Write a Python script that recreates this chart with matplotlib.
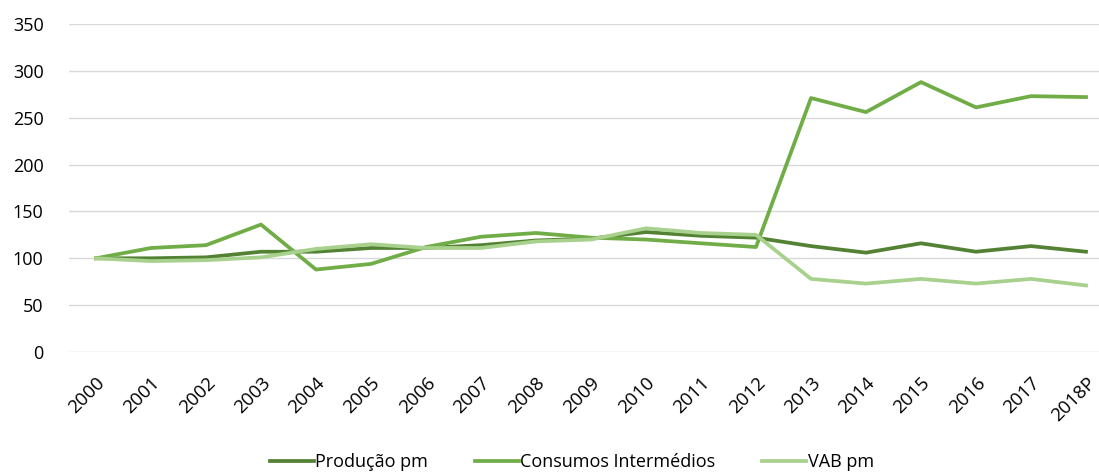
import matplotlib
matplotlib.use('Agg')
import matplotlib.pyplot as plt
import numpy as np

years = ['2000', '2001', '2002', '2003', '2004', '2005', '2006', '2007', '2008', '2009',
         '2010', '2011', '2012', '2013', '2014', '2015', '2016', '2017', '2018P']
producao = [100, 100, 101, 107, 107, 111, 111, 114, 119, 121,
            128, 124, 122, 113, 106, 116, 107, 113, 107]
consumos = [100, 111, 114, 136, 88, 94, 112, 123, 127, 122,
            120, 116, 112, 271, 256, 288, 261, 273, 272]
vab = [100, 97, 98, 101, 110, 115, 111, 111, 118, 120,
       132, 127, 125, 78, 73, 78, 73, 78, 71]

plt.rcParams['font.family'] = ['Open Sans', 'DejaVu Sans']

fig = plt.figure(figsize=(10.99, 4.74), dpi=100)
ax = fig.add_axes([68.5/1099, 1-352/474, 1045/1099, 328/474])

x = np.arange(len(years))
ax.plot(x, producao, color='#548235', lw=2.7, label='Produção pm')
ax.plot(x, consumos, color='#70AD47', lw=2.7, label='Consumos Intermédios')
ax.plot(x, vab, color='#A9D18E', lw=2.7, label='VAB pm')

ax.set_xlim(-0.5, 18.5)
ax.set_ylim(0, 350)
ax.set_yticks(range(0, 351, 50))
ax.set_xticks(x)
ax.set_xticklabels(years, rotation=45, ha='right', va='top', rotation_mode='anchor')
ax.grid(axis='y', color='#d9d9d9', lw=1)
ax.set_axisbelow(True)
for s in ax.spines.values():
    s.set_visible(False)
ax.tick_params(length=0, labelsize=13, colors='black')
ax.tick_params(axis='x', pad=16, labelsize=13.5)
ax.tick_params(axis='y', pad=18)

fig.legend(loc='center', bbox_to_anchor=(572/1099, 1-462/474), ncol=3, frameon=False,
           fontsize=13, handlelength=2.4, columnspacing=2.6, handletextpad=0.1)

fig.savefig('out.png', dpi=100)
